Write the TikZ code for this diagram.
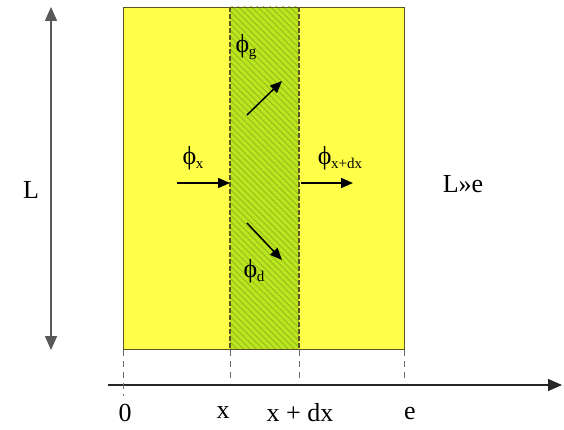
\documentclass[tikz,border=0pt]{standalone}
\usepackage{fontspec}
\setmainfont{Liberation Serif}
\usetikzlibrary{arrows.meta,patterns.meta}
\definecolor{slabyellow}{HTML}{FFFF4A}
\definecolor{slabgreen}{HTML}{BDE41E}
\definecolor{hatch}{HTML}{8CC01A}
\definecolor{edge}{HTML}{5C5424}
\definecolor{tickgray}{HTML}{6A6A6A}
\newcommand{\flx}[1]{ϕ\kern-0.5pt\raisebox{-4pt}{\fontsize{15}{17}\selectfont #1}}

\begin{document}
\begin{tikzpicture}[x=1pt,y=-1pt,font=\fontsize{26}{30}\selectfont,
  flux/.style={-{Triangle[length=12pt,width=10pt]},line width=1.5pt},
  lbl/.style={inner sep=0pt},
  tick/.style={tickgray,dashed,dash pattern=on 6pt off 5pt,line width=0.9pt}]
\useasboundingbox (0,0) rectangle (564,430);

% ---- slab and element of thickness dx
\fill[slabyellow] (123,7) rectangle (404,349);
\fill[slabgreen] (230,7) rectangle (299,349);
\fill[pattern={Lines[angle=-45,distance=4.5pt,line width=0.9pt]},pattern color=hatch] (230,7) rectangle (299,349);
\draw[edge,line width=0.9pt] (123,7) rectangle (404,349);
\draw[edge,line width=1.1pt,dashed,dash pattern=on 5pt off 2pt] (230,7) -- (230,349) (299,7) -- (299,349);

% ---- height L
\coordinate (ltop) at (51,7);
\coordinate (lbot) at (51,350);
\draw[{Triangle[length=14pt,width=12pt]}-{Triangle[length=14pt,width=12pt]},gray!70!black,line width=1.6pt] (ltop) -- (lbot);
\node[lbl] (hL) at (31,190) {L};
\node[lbl] (ratio) at (463,184) {L»e};

% ---- fluxes
\node[lbl] (phix) at (193,158) {\flx{x}};
\coordinate (fxa) at (177,183);
\coordinate (fxb) at (230,183);
\draw[flux] (fxa) -- (fxb);
\node[lbl] (phixdx) at (340,158) {\flx{x+dx}};
\coordinate (fdxa) at (301,183);
\coordinate (fdxb) at (353,183);
\draw[flux] (fdxa) -- (fdxb);
\node[lbl] (phig) at (246,47) {\flx{g}};
\coordinate (fga) at (247,115);
\coordinate (fgb) at (282,81);
\draw[flux] (fga) -- (fgb);
\node[lbl] (phid) at (254,271) {\flx{d}};
\coordinate (fda) at (247,223);
\coordinate (fdb) at (282,260);
\draw[flux] (fda) -- (fdb);

% ---- x axis
\coordinate (ax0) at (108,385);
\coordinate (ax1) at (562,385);
\draw[-{Triangle[length=14pt,width=12pt]},line width=1.3pt,black!85] (ax0) -- (ax1);
\draw[tick] (123,350) -- (123,396);
\foreach \xx in {230,299,404} \draw[tick] (\xx,350) -- (\xx,380);
\node[lbl] (o) at (125,413) {0};
\node[lbl] (xl) at (223,413) {x};
\node[lbl] (xdx) at (300,413) {x + dx};
\node[lbl] (e) at (410,413) {e};
\end{tikzpicture}
\end{document}
